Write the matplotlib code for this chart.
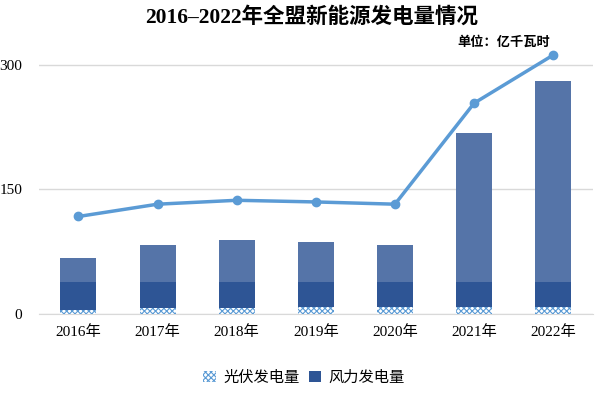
import numpy as np
import matplotlib.pyplot as plt

# data (亿千瓦时)
years = ['2016年', '2017年', '2018年', '2019年', '2020年', '2021年', '2022年']
solar = [4.8, 7.2, 7.2, 8.0, 8.4, 8.4, 8.4]          # 光伏发电量
wind = [38.8, 38.8, 38.8, 38.8, 38.8, 38.8, 38.8]     # 风力发电量
bar_total = [67.3, 83.0, 89.0, 86.6, 83.0, 217.6, 281.0]
line_total = [117.5, 132.3, 137.0, 135.0, 132.3, 254.0, 312.0]
yticks = [0, 150, 300]

plt.rcParams['font.family'] = ['Liberation Serif', 'Noto Sans CJK SC']
plt.rcParams['hatch.linewidth'] = 0.8

fig = plt.figure(figsize=(6.08, 3.93), dpi=100)
ax = fig.add_axes([0.064, 0.201, 0.911, 0.697])

x = np.arange(len(years))
w = 0.455
ax.bar(x, bar_total, w, color='#5574A8', zorder=2)
ax.bar(x, wind, w, color='#2E5595', zorder=3, label='风力发电量')
ax.bar(x, solar, w, color='white', edgecolor='#5B9BD5', hatch='xxxxxx',
       linewidth=0, zorder=4, label='光伏发电量')
ax.plot(x, line_total, color='#5B9BD5', lw=2.5, marker='o', ms=6, zorder=5)

ax.set_xlim(-0.5, len(years) - 0.5)
ax.set_ylim(0, 330)
ax.set_yticks(yticks)
ax.set_yticklabels([str(v) for v in yticks], fontsize=11)
ax.set_xticks(x)
ax.set_xticklabels(years, fontsize=11)
ax.tick_params(length=0, pad=8)
ax.tick_params(axis='y', pad=12)
ax.grid(axis='y', color='#D9D9D9', lw=1, zorder=0)
for s in ['top', 'right', 'left']:
    ax.spines[s].set_visible(False)
ax.spines['bottom'].set_color('#D9D9D9')

fig.text(0.512, 0.957, '2016–2022年全盟新能源发电量情况', ha='center', va='center',
         fontsize=15.5, fontweight='bold')
fig.text(0.829, 0.893, '单位：亿千瓦时', ha='center', va='center',
         fontsize=9.5, fontweight='bold')

h, l = ax.get_legend_handles_labels()
fig.legend(h[::-1], l[::-1], loc='center', bbox_to_anchor=(0.5, 0.04), ncol=2,
           frameon=False, handlelength=0.8, handleheight=0.8,
           handletextpad=0.5, columnspacing=0.6,
           prop={'family': ['Noto Sans CJK SC'], 'size': 11})

fig.savefig('out.png', dpi=100)
